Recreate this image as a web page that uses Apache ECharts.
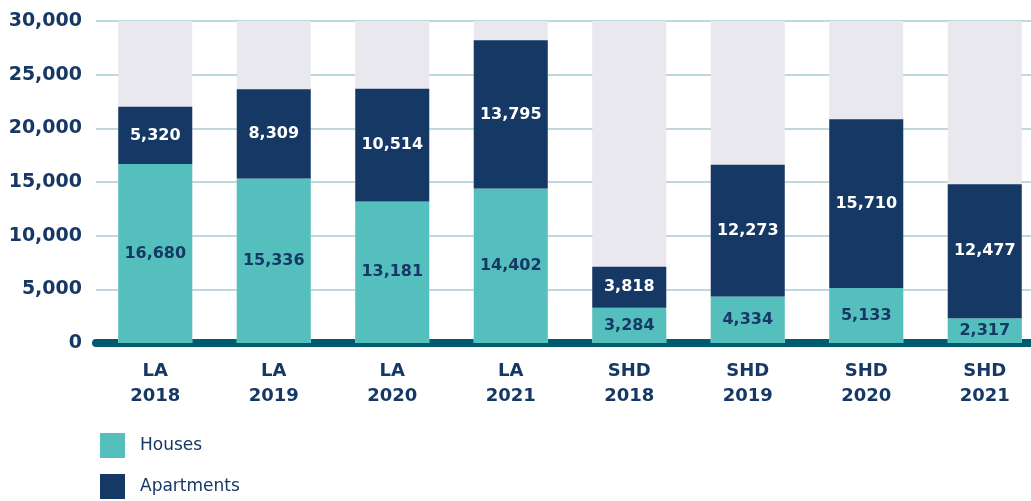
<!DOCTYPE html>
<html>
<head>
<meta charset="utf-8">
<script src="https://cdn.jsdelivr.net/npm/echarts@6/dist/echarts.min.js"></script>
<style>
    html, body { margin: 0; padding: 0; background: #fff; }
    #chart { width: 1031px; height: 501px; }
</style>
</head>
<body>
<div id="chart"></div>
<script>
    const categories = ['LA\n2018', 'LA\n2019', 'LA\n2020', 'LA\n2021', 'SHD\n2018', 'SHD\n2019', 'SHD\n2020', 'SHD\n2021'];
    const houses = [16680, 15336, 13181, 14402, 3284, 4334, 5133, 2317];
    const apartments = [5320, 8309, 10514, 13795, 3818, 12273, 15710, 12477];

    const navy = '#163865';
    const teal = '#55bfbe';
    const font = 'DejaVu Sans';

    const fmt = v => v.value.toLocaleString('en-US');

    const chart = echarts.init(document.getElementById('chart'));
    chart.setOption({
        animation: false,
        grid: {left: 96, top: 21, width: 948, height: 322, outerBoundsMode: 'none'},
        legend: {
            orient: 'vertical',
            left: 100,
            top: 433,
            padding: 0,
            itemWidth: 25,
            itemHeight: 25,
            itemGap: 16,
            icon: 'rect',
            textStyle: {color: navy, fontFamily: font, fontSize: 17, padding: [0, 0, 0, 10]},
            data: ['Houses', 'Apartments']
        },
        xAxis: {
            type: 'category',
            data: categories,
            axisTick: {show: false},
            axisLine: {lineStyle: {color: '#005b6f', width: 8}},
            axisLabel: {
                color: navy,
                fontFamily: font,
                fontWeight: 'bold',
                fontSize: 18,
                lineHeight: 25,
                margin: 16
            }
        },
        yAxis: {
            type: 'value',
            min: 0,
            max: 30000,
            interval: 5000,
            axisLine: {show: false},
            axisTick: {show: false},
            splitLine: {lineStyle: {color: '#a9ccd2', width: 1.5}},
            axisLabel: {
                color: navy,
                fontFamily: font,
                fontWeight: 'bold',
                fontSize: 19,
                margin: 14,
                formatter: v => v.toLocaleString('en-US')
            }
        },
        series: [
            {
                name: 'Houses',
                type: 'bar',
                stack: 'total',
                barWidth: 74,
                data: houses,
                itemStyle: {color: teal},
                showBackground: true,
                backgroundStyle: {color: '#e9e8ee'},
                label: {
                    show: true,
                    position: 'inside',
                    color: navy,
                    fontFamily: font,
                    fontWeight: 'bold',
                    fontSize: 16,
                    formatter: fmt
                }
            },
            {
                name: 'Apartments',
                type: 'bar',
                stack: 'total',
                barWidth: 74,
                data: apartments,
                itemStyle: {color: navy},
                label: {
                    show: true,
                    position: 'inside',
                    color: '#ffffff',
                    fontFamily: font,
                    fontWeight: 'bold',
                    fontSize: 16,
                    formatter: fmt
                }
            }
        ]
    });
</script>
</body>
</html>
